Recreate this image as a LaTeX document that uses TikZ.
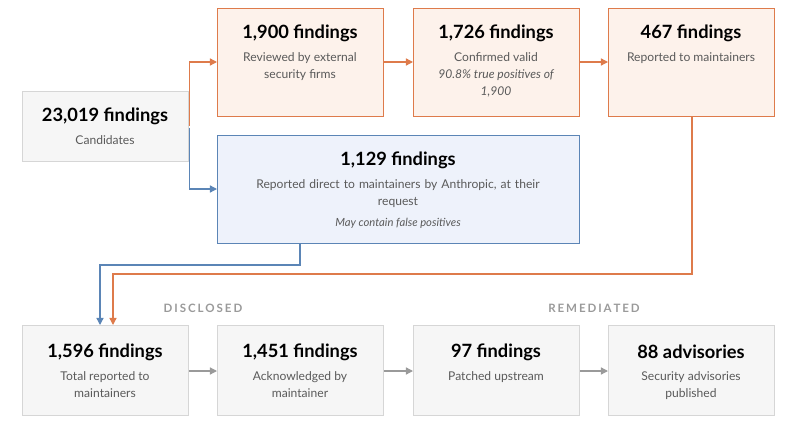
\documentclass[tikz,border=0pt]{standalone}
\usepackage{fontspec}
\setmainfont{Lato}
\usetikzlibrary{positioning,arrows.meta}
\definecolor{orangeline}{HTML}{DE7B4B}
\definecolor{orangefill}{HTML}{FDF2EB}
\definecolor{blueline}{HTML}{5B85B6}
\definecolor{bluefill}{HTML}{EEF2FB}
\definecolor{greyline}{HTML}{D6D6D6}
\definecolor{greyfill}{HTML}{F6F6F6}
\definecolor{subtext}{HTML}{5A5A5A}
\definecolor{arrowgrey}{HTML}{9A9A9A}
\tikzstyle{box} = [draw=greyline, fill=greyfill, line width=0.9pt, rectangle, anchor=north west, inner sep=0pt]
\tikzstyle{review} = [box, draw=orangeline, fill=orangefill]
\tikzstyle{direct} = [box, draw=blueline, fill=bluefill]
\tikzstyle{title} = [font=\bfseries\fontsize{13}{15}\selectfont, inner sep=0pt]
\tikzstyle{sub} = [font=\fontsize{8.6}{12.2}\selectfont, text=subtext, align=center, inner sep=0pt, anchor=north]
\tikzstyle{stage} = [font=\bfseries\fontsize{8.2}{10}\selectfont, text=arrowgrey, inner sep=0pt]
\tikzstyle{line} = [draw, line width=0.9pt, -{Triangle[length=5pt,width=5pt]}]

\begin{document}
\begin{tikzpicture}[x=0.025cm, y=-0.025cm]
    \useasboundingbox (0,0) rectangle (800,420);
    % Place boxes
    \node [box, minimum width=166*0.025cm, minimum height=70*0.025cm] (cand) at (22,91) {};
    \node [review, minimum width=166*0.025cm, minimum height=108*0.025cm] (ext) at (217,8) {};
    \node [review, minimum width=166*0.025cm, minimum height=108*0.025cm] (valid) at (413,8) {};
    \node [review, minimum width=166*0.025cm, minimum height=108*0.025cm] (maint) at (608,8) {};
    \node [direct, minimum width=362*0.025cm, minimum height=108*0.025cm] (direct) at (217,135) {};
    \node [box, minimum width=166*0.025cm, minimum height=90*0.025cm] (total) at (22,325) {};
    \node [box, minimum width=166*0.025cm, minimum height=90*0.025cm] (ack) at (217,325) {};
    \node [box, minimum width=166*0.025cm, minimum height=90*0.025cm] (patch) at (413,325) {};
    \node [box, minimum width=166*0.025cm, minimum height=90*0.025cm] (advis) at (608,325) {};
    % Texts
    \node [title] (cand-t) at (105,116) {23,019 findings};
    \node [sub] (cand-s) at (105,135) {Candidates};
    \node [title] (ext-t) at (300,33) {1,900 findings};
    \node [sub] (ext-s) at (300,52) {Reviewed by external\\security firms};
    \node [title] (valid-t) at (496,33) {1,726 findings};
    \node [sub] (valid-s) at (496,52) {Confirmed valid\\\itshape 90.8\% true positives of\\\itshape 1,900};
    \node [title] (maint-t) at (691,33) {467 findings};
    \node [sub] (maint-s) at (691,52) {Reported to maintainers};
    \node [title] (direct-t) at (398,160) {1,129 findings};
    \node [sub, text width=320*0.025cm] (direct-s) at (398,179) {Reported direct to maintainers by Anthropic, at their\\request};
    \node [sub, font=\itshape\fontsize{8}{10}\selectfont] (direct-i) at (398,218) {May contain false positives};
    \node [title] (total-t) at (105,352) {1,596 findings};
    \node [sub] (total-s) at (105,371) {Total reported to\\maintainers};
    \node [title] (ack-t) at (300,352) {1,451 findings};
    \node [sub] (ack-s) at (300,371) {Acknowledged by\\maintainer};
    \node [title] (patch-t) at (496,352) {97 findings};
    \node [sub] (patch-s) at (496,371) {Patched upstream};
    \node [title] (advis-t) at (691,352) {88 advisories};
    \node [sub] (advis-s) at (691,371) {Security advisories\\published};
    \node [stage] (disc) at (203,308) {D\,I\,S\,C\,L\,O\,S\,E\,D};
    \node [stage] (remed) at (594,308) {R\,E\,M\,E\,D\,I\,A\,T\,E\,D};
    % Draw edges
    \path [line, orangeline] (cand.east) ++(0,-1) |- (ext.west |- 0,62);
    \path [line, blueline] (cand.east) ++(0,1) |- (direct.west |- 0,189);
    \path [line, orangeline] (ext.east |- 0,62) -- (valid.west |- 0,62);
    \path [line, orangeline] (valid.east |- 0,62) -- (maint.west |- 0,62);
    \path [line, blueline] (direct.south -| 300,0) |- (100,265) -- (total.north -| 100,0);
    \path [line, orangeline] (maint.south -| 692,0) |- (113,274) -- (total.north -| 113,0);
    \path [line, arrowgrey] (total.east |- 0,371) -- (ack.west |- 0,371);
    \path [line, arrowgrey] (ack.east |- 0,371) -- (patch.west |- 0,371);
    \path [line, arrowgrey] (patch.east |- 0,371) -- (advis.west |- 0,371);
\end{tikzpicture}
\end{document}
